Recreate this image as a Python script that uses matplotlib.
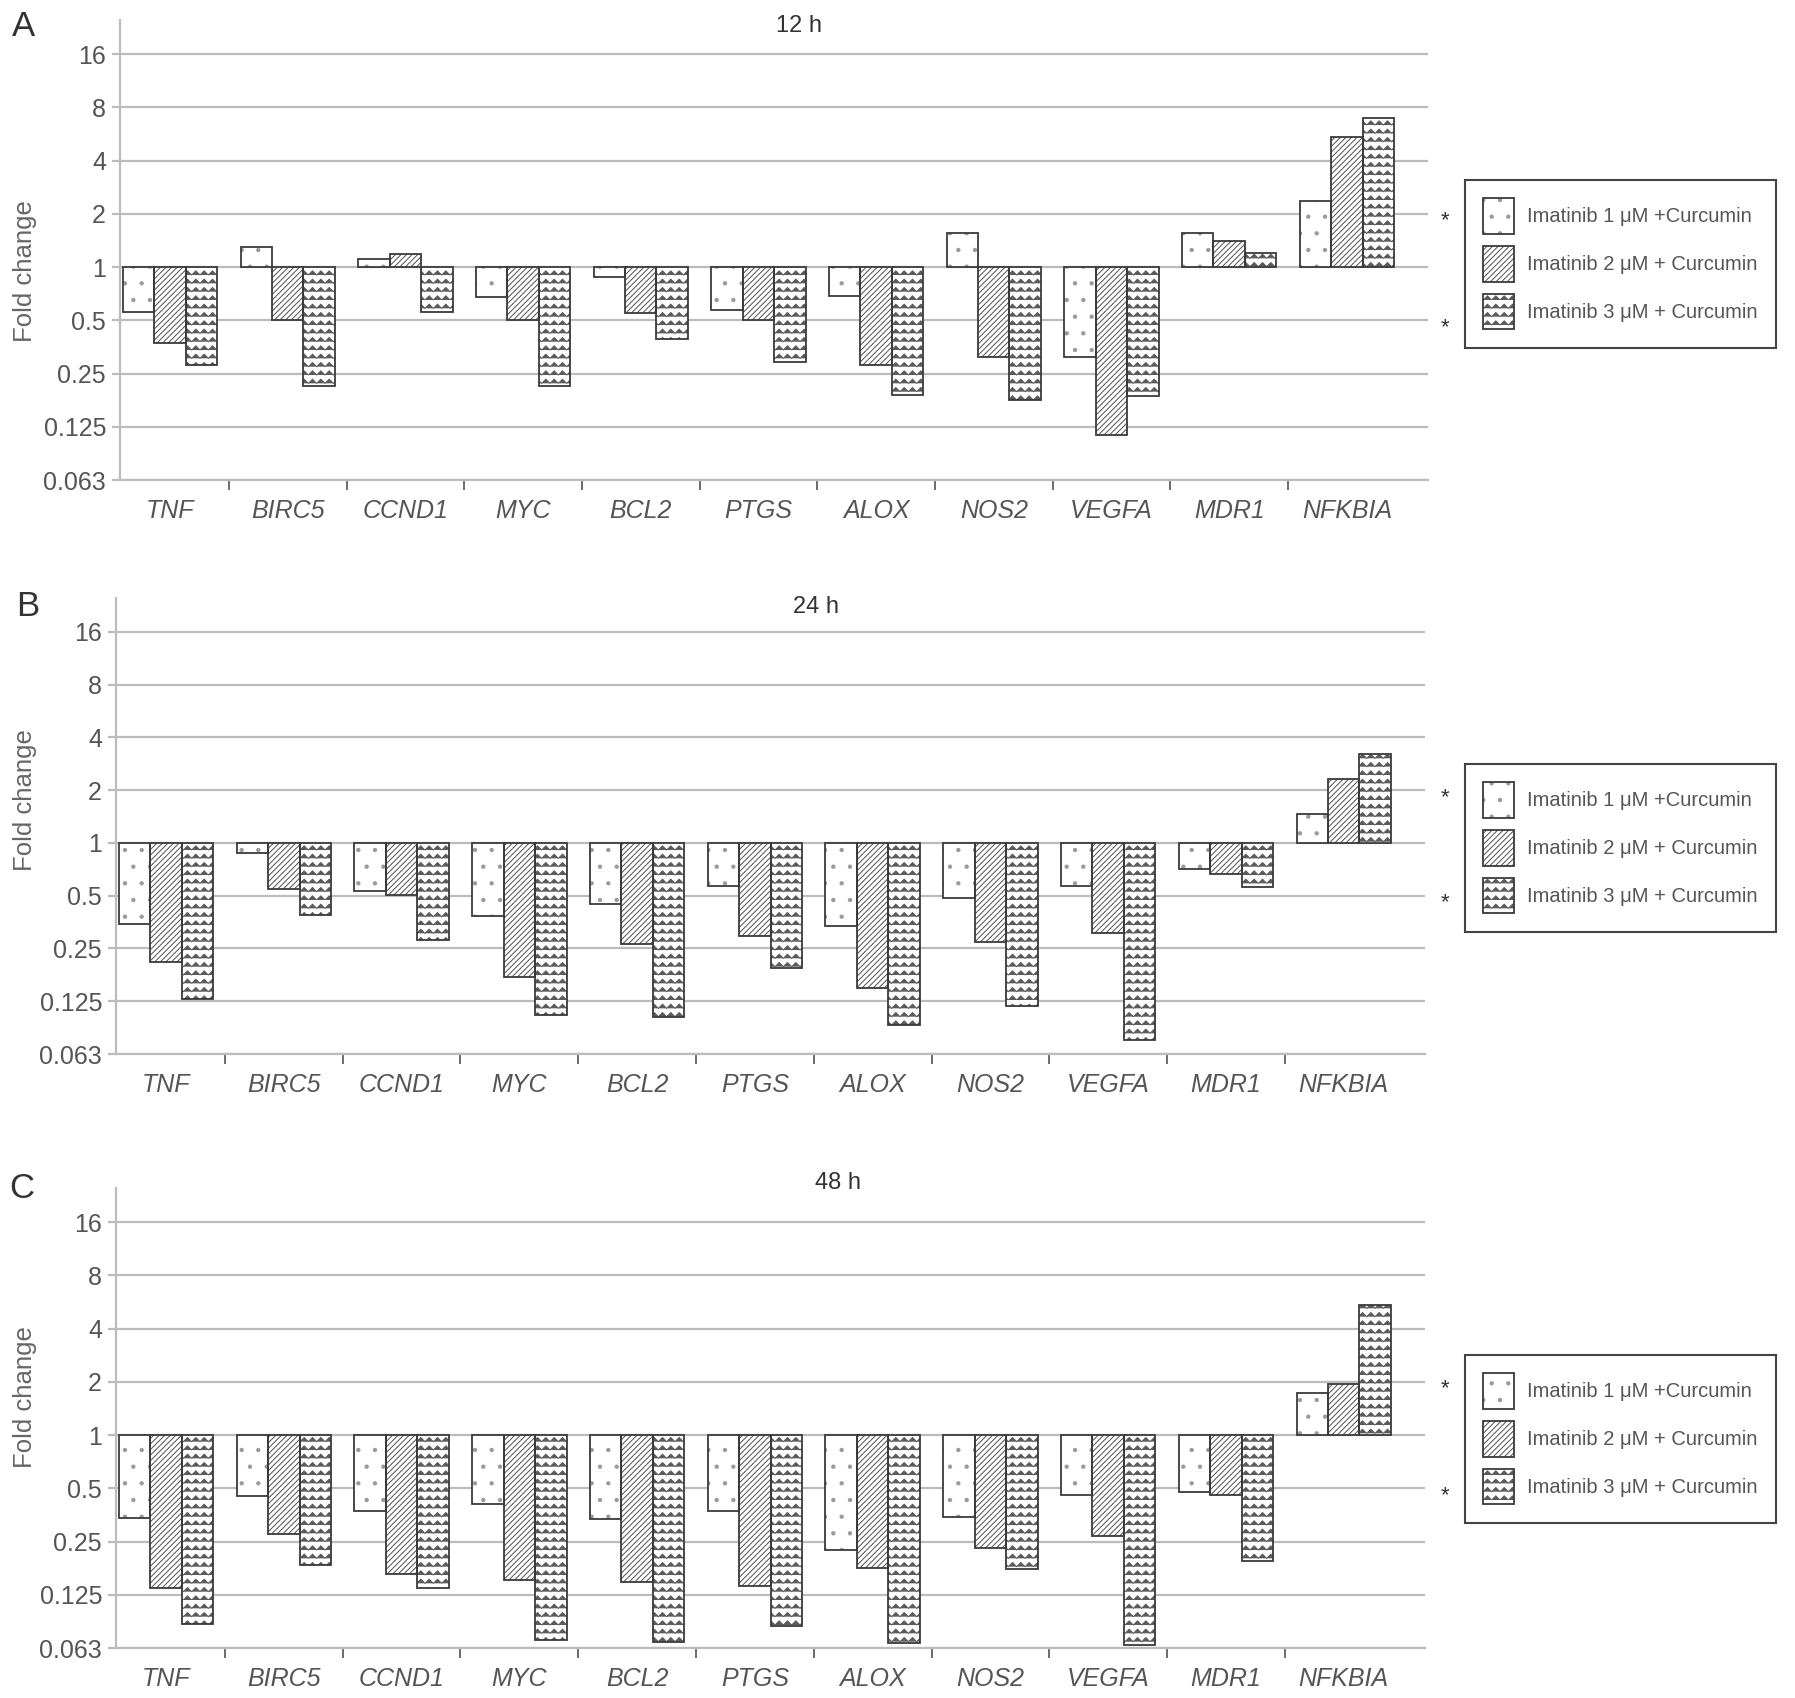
import numpy as np
import matplotlib
matplotlib.use('Agg')
import matplotlib.pyplot as plt
from matplotlib import hatch as mhatch
from matplotlib.path import Path
from matplotlib.patches import Patch

W, H = 1795, 1698
plt.rcParams['font.family'] = ['Liberation Sans', 'DejaVu Sans']
plt.rcParams['hatch.linewidth'] = 0.7

genes = ['TNF', 'BIRC5', 'CCND1', 'MYC', 'BCL2', 'PTGS', 'ALOX', 'NOS2', 'VEGFA', 'MDR1', 'NFKBIA']
series_names = ['Imatinib 1 \u03bcM +Curcumin', 'Imatinib 2 \u03bcM + Curcumin', 'Imatinib 3 \u03bcM + Curcumin']

# fold change (log2 axis)
h12_1 = [0.56, 1.30, 1.11, 0.68, 0.88, 0.57, 0.69, 1.56, 0.31, 1.56, 2.38]
h12_2 = [0.37, 0.50, 1.19, 0.50, 0.55, 0.50, 0.28, 0.31, 0.112, 1.41, 5.42]
h12_3 = [0.28, 0.213, 0.56, 0.213, 0.39, 0.29, 0.19, 0.177, 0.186, 1.20, 6.96]

h24_1 = [0.344, 0.874, 0.534, 0.382, 0.446, 0.571, 0.334, 0.484, 0.566, 0.715, 1.46]
h24_2 = [0.209, 0.546, 0.506, 0.171, 0.264, 0.294, 0.149, 0.273, 0.308, 0.662, 2.32]
h24_3 = [0.129, 0.390, 0.279, 0.105, 0.101, 0.193, 0.092, 0.117, 0.075, 0.563, 3.23]

h48_1 = [0.339, 0.453, 0.370, 0.409, 0.334, 0.370, 0.225, 0.346, 0.457, 0.478, 1.73]
h48_2 = [0.137, 0.277, 0.164, 0.152, 0.148, 0.140, 0.177, 0.229, 0.268, 0.457, 1.94]
h48_3 = [0.085, 0.185, 0.137, 0.069, 0.068, 0.083, 0.067, 0.176, 0.065, 0.195, 5.47]

ytick_vals = [0.0625, 0.125, 0.25, 0.5, 1, 2, 4, 8, 16]
ytick_labels = ['0.063', '0.125', '0.25', '0.5', '1', '2', '4', '8', '16']


# zigzag hatch (used for '-'), the wave fill of the 3 uM bars
class ZigZagHatch(mhatch.HatchPatternBase):
    def __init__(self, hatch, density):
        n = hatch.count('-')
        self.num_rows = n * 6
        self.num_teeth = n * 6
        self.num_vertices = self.num_rows * (2 * self.num_teeth + 1)

    def set_vertices_and_codes(self, vertices, codes):
        npts = 2 * self.num_teeth + 1
        xs = np.linspace(0, 1, npts)
        amp = 0.5 / self.num_rows
        for r in range(self.num_rows):
            sl = slice(r * npts, (r + 1) * npts)
            vertices[sl, 0] = xs
            vertices[sl, 1] = r / self.num_rows + amp * (np.arange(npts) % 2)
            codes[sl] = Path.LINETO
            codes[r * npts] = Path.MOVETO


mhatch._hatch_types = [mhatch.NorthEastHatch, mhatch.SmallFilledCircles, ZigZagHatch]

hatches = ['.', '//////', '--']
hatch_colors = ['#9a9a9a', '#505050', '#5a5a5a']
edge = '#3a3a3a'
grid_c = '#bcbcbc'
txt_c = '#555555'

fig = plt.figure(figsize=(W / 100, H / 100), dpi=100)

# (letter, title, data, axes box in px: left, right, top, bottom, title xy, letter xy, ylabel y, legend top)
panels = [
    ('A', '12 h', [h12_1, h12_2, h12_3], (120, 1428, 20, 480), (799, 26), (23, 26), 271, 180),
    ('B', '24 h', [h24_1, h24_2, h24_3], (116, 1425, 598, 1054), (816, 607), (28, 607), 800, 764),
    ('C', '48 h', [h48_1, h48_2, h48_3], (116, 1425, 1188, 1648), (838, 1183), (22, 1188), 1397, 1355),
]

bw = 0.267
x = np.arange(len(genes))

for letter, title, data, box, txy, lxy, ylab_y, leg_top in panels:
    l, r, t, b = box
    ax = fig.add_axes([l / W, 1 - b / H, (r - l) / W, (b - t) / H])
    ax.set_yscale('log')
    ax.set_ylim(0.0625, 25)
    ax.set_xlim(-0.425, 10.69)
    ax.set_axisbelow(True)

    for i, vals in enumerate(data):
        v = np.array(vals)
        xi = x + (i - 1) * bw
        ax.bar(xi, v - 1, bw, bottom=1, color='white', edgecolor=hatch_colors[i],
               hatch=hatches[i], linewidth=0, zorder=2)
        ax.bar(xi, v - 1, bw, bottom=1, fill=False, edgecolor=edge, linewidth=1.3, zorder=3)

    ax.set_yticks(ytick_vals)
    ax.set_yticklabels(ytick_labels)
    ax.yaxis.set_minor_locator(matplotlib.ticker.NullLocator())
    ax.tick_params(axis='y', length=6, width=1.6, color=grid_c, pad=4,
                   labelsize=18, labelcolor=txt_c)
    ax.yaxis.grid(True, color=grid_c, lw=1.6)

    ax.set_xticks(x)
    ax.set_xticklabels(genes, style='italic')
    ax.set_xticks(np.arange(0.5, len(genes) - 1, 1), minor=True)
    ax.tick_params(axis='x', which='major', length=0, pad=14, labelsize=18, labelcolor=txt_c)
    ax.tick_params(axis='x', which='minor', length=7, width=1.1, color='#444444', direction='out')

    for s in ['top', 'right']:
        ax.spines[s].set_visible(False)
    for s in ['left', 'bottom']:
        ax.spines[s].set_color(grid_c)
        ax.spines[s].set_linewidth(1.6)

    for yv in [2, 0.5]:
        ax.annotate('*', xy=((1445 - l) / (r - l), yv), xycoords=('axes fraction', 'data'),
                    xytext=(0, -9), textcoords='offset points', ha='center', va='baseline',
                    fontsize=16, color='#333333')

    fig.text(txy[0] / W, 1 - txy[1] / H, title, ha='center', va='center', fontsize=17, color='#333333')
    fig.text(lxy[0] / W, 1 - lxy[1] / H, letter, ha='center', va='center', fontsize=25, color='#333333')
    fig.text(25 / W, 1 - ylab_y / H, 'Fold change', rotation=90, ha='center', va='center',
             fontsize=18.5, color='#666666')

    handles = [(Patch(facecolor='white', edgecolor=hatch_colors[i], hatch=hatches[i], linewidth=0),
                Patch(fill=False, edgecolor=edge, linewidth=1.3)) for i in range(3)]
    leg = fig.legend(handles, series_names, loc='upper left',
                     bbox_to_anchor=(1465 / W, 1 - leg_top / H), bbox_transform=fig.transFigure,
                     frameon=True, fancybox=False, edgecolor='#444444', framealpha=1,
                     fontsize=14.5, handlelength=1.55, handleheight=2.35, labelspacing=0.6,
                     handletextpad=0.65, borderpad=0.9, borderaxespad=0, labelcolor=txt_c)
    leg.get_frame().set_linewidth(1.5)

fig.savefig('out.png', dpi=100)
